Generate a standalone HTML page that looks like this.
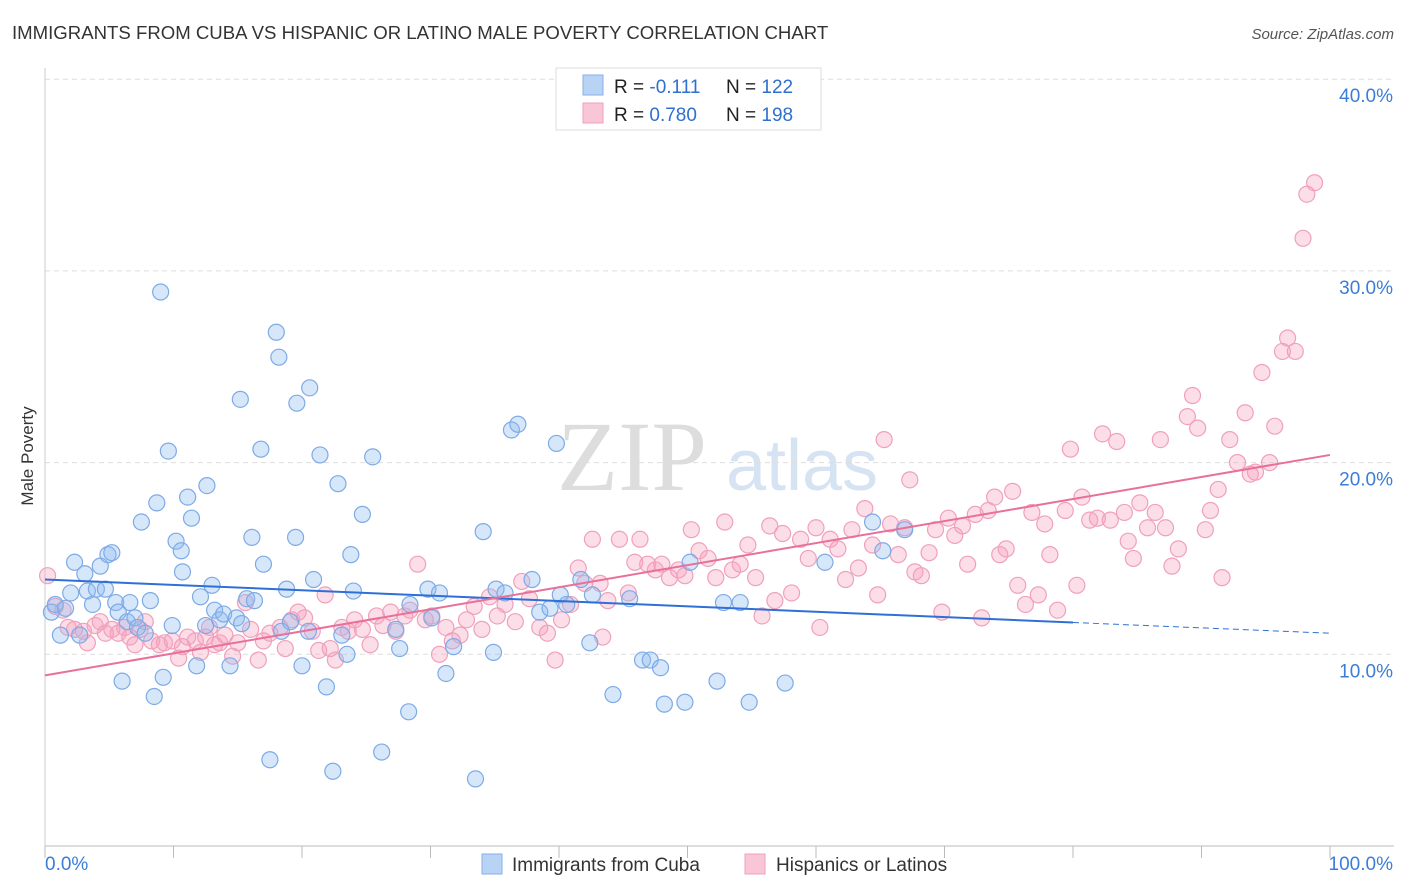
<!DOCTYPE html>
<html><head><meta charset="utf-8"><style>
body{margin:0;background:#fff;font-family:"Liberation Sans",sans-serif;}
svg{display:block}
</style></head><body>
<svg id="c" width="1406" height="892" xmlns="http://www.w3.org/2000/svg">
<text x="12" y="39" font-size="18.6" fill="#333">IMMIGRANTS FROM CUBA VS HISPANIC OR LATINO MALE POVERTY CORRELATION CHART</text>
<text x="1394" y="39" font-size="15" fill="#555" font-style="italic" text-anchor="end">Source: ZipAtlas.com</text>
<text x="33" y="456" font-size="17" fill="#333" text-anchor="middle" transform="rotate(-90 33 456)">Male Poverty</text>
<g><text x="632" y="490" font-size="100" fill="#ddd" font-family="Liberation Serif,serif" text-anchor="middle">ZIP</text><text x="802" y="490" font-size="72" fill="#d5e3f3" text-anchor="middle">atlas</text></g>
<g id="grid"></g><g id="marks"></g><g id="trends"></g>
<g>
<rect x="556" y="68" width="265" height="62" fill="#fff" stroke="#ddd"/>
<rect x="583" y="75" width="20" height="20" fill="#b9d3f5" stroke="#86b0e6"/>
<rect x="583" y="103" width="20" height="20" fill="#f8c6d6" stroke="#f0a0bb"/>
<text x="614" y="93" font-size="19" fill="#222">R = <tspan fill="#2f6fcf"> -0.111</tspan><tspan x="726">N = </tspan><tspan fill="#2f6fcf">122</tspan></text>
<text x="614" y="121" font-size="19" fill="#222">R = <tspan fill="#2f6fcf">0.780</tspan><tspan x="726">N = </tspan><tspan fill="#2f6fcf">198</tspan></text>
</g>
<g>
<rect x="482" y="854" width="20" height="20" fill="#b9d3f5" stroke="#86b0e6"/>
<text x="512" y="871" font-size="19" fill="#333">Immigrants from Cuba</text>
<rect x="745" y="854" width="20" height="20" fill="#f8c6d6" stroke="#f0a0bb"/>
<text x="776" y="871" font-size="19" fill="#333">Hispanics or Latinos</text>
</g>
</svg>
<script>
const yTicks=[10,20,30,40];
const xTickLabels=["0.0%","100.0%"];
const blueX=[0.5,0.8,1.2,1.6,2.0,2.3,2.7,3.1,3.3,3.7,4.0,4.3,4.7,4.9,5.2,5.5,5.7,6.0,6.4,6.6,7.0,7.2,7.5,7.8,8.2,8.5,8.7,9.0,9.2,9.6,9.9,10.2,10.6,10.7,11.1,11.4,11.8,12.1,12.5,12.6,13.0,13.2,13.6,13.9,14.4,14.9,15.2,15.3,15.7,16.1,16.3,16.8,17.0,17.5,18.0,18.2,18.4,18.8,19.1,19.5,19.6,20.0,20.5,20.6,20.9,21.4,21.9,22.4,22.8,23.1,23.5,23.8,24.0,24.7,25.5,26.2,27.3,27.6,28.3,28.4,29.8,30.1,30.7,31.2,31.8,33.5,34.1,34.9,35.1,35.8,36.3,36.8,37.9,38.5,39.3,39.8,40.1,40.6,41.7,42.4,42.6,44.2,45.5,46.5,47.1,47.9,48.2,49.8,50.2,52.3,52.8,54.1,54.8,57.6,60.7,64.4,65.2,66.9];
const blueY=[12.2,12.6,11.0,12.4,13.2,14.8,11.0,14.2,13.3,12.6,13.4,14.6,13.4,15.2,15.3,12.7,12.2,8.6,11.7,12.7,11.9,11.4,16.9,11.1,12.8,7.8,17.9,28.9,8.8,20.6,11.5,15.9,15.4,14.3,18.2,17.1,9.4,13.0,11.5,18.8,13.6,12.3,11.8,12.1,9.4,11.9,23.3,11.6,12.9,16.1,12.8,20.7,14.7,4.5,26.8,25.5,11.2,13.4,11.7,16.1,23.1,9.4,11.2,23.9,13.9,20.4,8.3,3.9,18.9,11.0,10.0,15.2,13.3,17.3,20.3,4.9,11.3,10.3,7.0,12.6,13.4,11.9,13.2,9.0,10.4,3.5,16.4,10.1,13.4,13.2,21.7,22.0,13.9,12.2,12.4,21.0,13.1,12.6,13.9,10.6,13.1,7.9,12.9,9.7,9.7,9.3,7.4,7.5,14.8,8.6,12.7,12.7,7.5,8.5,14.8,16.9,15.4,16.5];
const pinkX=[0.2,0.8,1.4,1.8,2.3,3.0,3.3,3.9,4.3,4.7,5.2,5.7,6.2,6.6,7.0,7.4,7.8,8.3,8.9,9.3,9.9,10.4,10.7,11.1,11.7,12.1,12.5,12.8,13.2,13.6,14.0,14.6,15.0,15.6,16.0,16.6,17.0,17.5,18.3,18.7,19.2,19.7,20.2,20.8,21.3,21.8,22.2,22.6,23.1,23.6,24.1,24.7,25.3,25.8,26.3,26.9,27.3,28.0,28.4,29.0,29.6,30.1,30.7,31.2,31.7,32.3,32.8,33.4,34.0,34.6,35.2,35.8,36.6,37.1,37.7,38.5,39.1,39.7,40.2,40.9,41.5,42.0,42.6,43.2,43.4,43.8,44.7,45.4,45.9,46.3,46.9,47.5,48.0,48.6,49.3,49.8,50.3,50.9,51.6,52.2,52.9,53.5,54.1,54.7,55.3,55.8,56.4,56.8,57.4,58.1,58.8,59.4,60.0,60.3,61.1,61.7,62.3,62.8,63.3,63.8,64.4,64.8,65.3,65.8,66.4,66.9,67.3,67.7,68.2,68.8,69.3,69.8,70.3,70.8,71.4,71.8,72.4,72.9,73.4,73.9,74.3,74.8,75.3,75.7,76.3,76.8,77.3,77.8,78.2,78.8,79.4,79.8,80.3,80.7,81.3,81.9,82.3,82.9,83.4,84.0,84.3,84.7,85.2,85.8,86.4,86.8,87.2,87.7,88.2,88.9,89.3,89.7,90.3,90.7,91.3,91.6,92.2,92.8,93.4,93.8,94.2,94.7,95.3,95.7,96.3,96.7,97.3,97.9,98.2,98.8];
const pinkY=[14.1,12.5,12.3,11.4,11.3,11.2,10.6,11.5,11.7,11.1,11.3,11.1,11.4,10.9,10.5,11.3,11.7,10.7,10.5,10.6,10.7,9.8,10.4,10.9,10.7,10.1,10.9,11.4,10.5,10.6,11.0,9.9,10.6,12.7,11.3,9.7,10.7,11.1,11.4,10.3,11.8,12.2,11.9,11.2,10.2,13.1,10.3,9.7,11.4,11.2,11.8,11.3,10.5,12.0,11.5,12.2,11.2,12.0,12.3,14.7,11.8,12.0,10.0,11.4,10.7,11.0,11.8,12.5,11.3,13.0,12.0,12.6,11.7,13.8,12.9,11.4,11.1,9.7,11.8,12.6,14.5,13.7,16.0,13.7,10.9,12.8,16.0,13.2,14.8,16.0,14.7,14.4,14.7,14.0,14.4,14.1,16.5,15.4,15.0,14.0,16.9,14.4,14.7,15.7,14.0,12.0,16.7,12.8,16.3,13.2,16.0,15.0,16.6,11.4,16.0,15.5,13.9,16.5,14.5,17.6,15.7,13.1,21.2,16.8,15.2,16.6,19.1,14.3,14.1,15.3,16.5,12.2,17.1,16.2,16.7,14.7,17.3,11.9,17.5,18.2,15.2,15.5,18.5,13.6,12.6,17.4,13.1,16.8,15.2,12.3,17.5,20.7,13.6,18.2,17.0,17.1,21.5,17.0,21.1,17.4,15.9,15.0,17.9,16.6,17.4,21.2,16.6,14.6,15.5,22.4,23.5,21.8,16.5,17.5,18.6,14.0,21.2,20.0,22.6,19.4,19.5,24.7,20.0,21.9,25.8,26.5,25.8,31.7,34.0,34.6];
const blueTrend=[13.9,11.1];
const pinkTrend=[8.9,20.4];
const X0=45,X1=1330,Y0=846,PY=19.17;
const sx=v=>X0+(X1-X0)*v/100;
const sy=v=>Y0-v*PY;
const NS="http://www.w3.org/2000/svg";
function mk(tag,attrs,parent){const e=document.createElementNS(NS,tag);for(const k in attrs)e.setAttribute(k,attrs[k]);parent.appendChild(e);return e;}
const grid=document.getElementById('grid');
yTicks.forEach(t=>{
 const l=mk('line',{x1:45,x2:1394,y1:sy(t),y2:sy(t),stroke:'#ddd','stroke-dasharray':'5,4'},grid);
 
 
 const tx=mk('text',{x:1393,y:sy(t)+23,'font-size':19,fill:'#3b7dd8','text-anchor':'end'},grid);
 tx.textContent=t.toFixed(1)+'%';
 
 
});
const ax=mk('line',{x1:45,x2:1394,y1:Y0,y2:Y0,stroke:'#bbb'},grid);


const ay=mk('line',{x1:45,x2:45,y1:68,y2:Y0,stroke:'#ccc'},grid);


for(let i=0;i<=10;i++){
 const t=mk('line',{x1:sx(i*10),x2:sx(i*10),y1:Y0,y2:Y0+12,stroke:'#bbb'},grid);
 
 
}
const xl0=mk('text',{x:45,y:870,'font-size':19,fill:'#3b7dd8'},grid);xl0.textContent=xTickLabels[0];


const xl1=mk('text',{x:1393,y:870,'font-size':19,fill:'#3b7dd8','text-anchor':'end'},grid);xl1.textContent=xTickLabels[1];


const marks=document.getElementById('marks');
pinkX.forEach((x,i)=>{
 const c=mk('circle',{cx:sx(x),cy:sy(pinkY[i]),r:8,fill:'rgba(245,160,190,0.35)',stroke:'#f0a0bb','stroke-width':1.2},marks);
 
 
});
blueX.forEach((x,i)=>{
 const c=mk('circle',{cx:sx(x),cy:sy(blueY[i]),r:8,fill:'rgba(140,185,240,0.35)',stroke:'#7eaae6','stroke-width':1.2},marks);
 
 
});
const tr=document.getElementById('trends');
const by=x=>blueTrend[0]+(blueTrend[1]-blueTrend[0])*x/100;
const b1=mk('line',{x1:sx(0),y1:sy(by(0)),x2:sx(80),y2:sy(by(80)),stroke:'#2f6fd6','stroke-width':2},tr);


const b2=mk('line',{x1:sx(80),y1:sy(by(80)),x2:sx(100),y2:sy(by(100)),stroke:'#2f6fd6','stroke-width':1,'stroke-dasharray':'6,4'},tr);


const p1=mk('line',{x1:sx(0),y1:sy(pinkTrend[0]),x2:sx(100),y2:sy(pinkTrend[1]),stroke:'#e8709a','stroke-width':2},tr);


</script>
</body></html>
